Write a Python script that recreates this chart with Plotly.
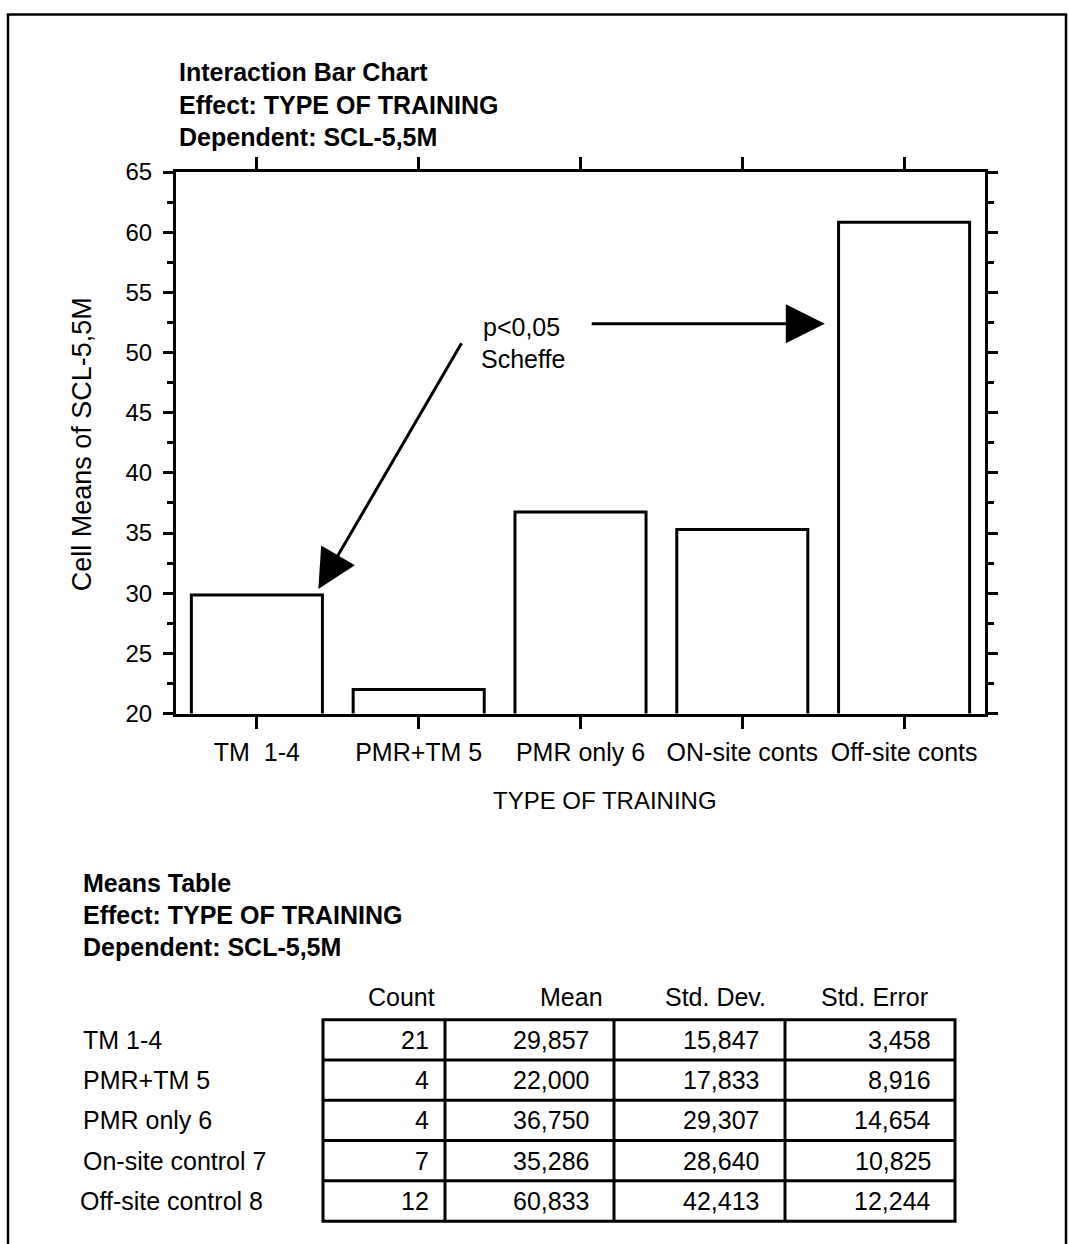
import plotly.graph_objects as go

# ---------------- data ----------------
categories = ["TM  1-4", "PMR+TM 5", "PMR only 6", "ON-site conts", "Off-site conts"]
means = [29.857, 22.000, 36.750, 35.286, 60.833]
row_labels = ["TM 1-4", "PMR+TM 5", "PMR only 6", "On-site control 7", "Off-site control 8"]
counts = [21, 4, 4, 7, 12]
std_dev = [15.847, 17.833, 29.307, 28.640, 42.413]
std_err = [3.458, 8.916, 14.654, 10.825, 12.244]
table_headers = ["Count", "Mean", "Std. Dev.", "Std. Error"]
y_ticks = [20, 25, 30, 35, 40, 45, 50, 55, 60, 65]

W, H = 1069, 1244
FONT = "Liberation Sans, Arial, Helvetica, sans-serif"


def px(x):
    return x / W


def py(y):
    # pixel row (top-down) -> paper fraction, with empirical vertical correction
    return 1 - ((y - 11.5) / 0.981) / H


def fmt(v):
    return f"{v:.3f}".replace(".", ",")


fig = go.Figure()
fig.add_trace(go.Bar(
    x=list(range(len(categories))), y=means, width=0.81,
    marker=dict(color="white", line=dict(color="black", width=3)),
    showlegend=False,
))

axis_common = dict(showline=True, linecolor="black", linewidth=3, mirror="ticks",
                   ticks="outside", tickcolor="black", tickwidth=3,
                   showgrid=False, zeroline=False)

fig.update_layout(
    width=W, height=H, margin=dict(l=0, r=0, t=0, b=0),
    paper_bgcolor="white", plot_bgcolor="white",
    font=dict(family=FONT, color="black"),
    xaxis=dict(domain=[px(176), px(985)], range=[-0.5, 4.5],
               tickmode="array", tickvals=list(range(len(categories))), ticktext=categories,
               ticklen=12, ticklabelstandoff=2,
               tickfont=dict(family=FONT, size=25, color="black"), **axis_common),
    yaxis=dict(domain=[py(713), py(170)], range=[20, 65],
               tickmode="array", tickvals=y_ticks, ticklen=10, ticklabelstandoff=6,
               tickfont=dict(family=FONT, size=24, color="black"),
               minor=dict(dtick=2.5, tick0=0, ticklen=6, tickwidth=3, tickcolor="black", ticks="outside"),
               **axis_common),
)

ann = []
# chart title block
for i, t in enumerate(["Interaction Bar Chart", "Effect: TYPE OF TRAINING", "Dependent: SCL-5,5M"]):
    ann.append(dict(x=px(177), y=py(70 + 32.5 * i), xref="paper", yref="paper", text=f"<b>{t}</b>",
                    showarrow=False, xanchor="left", yanchor="middle",
                    font=dict(family=FONT, size=25, color="black")))
# axis titles
ann.append(dict(x=px(82), y=py(443), xref="paper", yref="paper", text="Cell Means of SCL-5,5M",
                textangle=-90, showarrow=False, xanchor="center", yanchor="middle",
                font=dict(family=FONT, size=27, color="black")))
ann.append(dict(x=px(605), y=py(800), xref="paper", yref="paper", text="TYPE OF TRAINING",
                showarrow=False, xanchor="center", yanchor="middle",
                font=dict(family=FONT, size=24, color="black")))
# p-value annotation
ann.append(dict(x=px(481), y=py(325), xref="paper", yref="paper", text="p<0,05",
                showarrow=False, xanchor="left", yanchor="middle",
                font=dict(family=FONT, size=25, color="black")))
ann.append(dict(x=px(479), y=py(357), xref="paper", yref="paper", text="Scheffe",
                showarrow=False, xanchor="left", yanchor="middle",
                font=dict(family=FONT, size=25, color="black")))
ann.append(dict(x=0.38, y=30.35, xref="x", yref="y", ax=1.27, ay=50.9, axref="x", ayref="y",
                text="", showarrow=True, arrowhead=2, arrowsize=2.6, arrowwidth=3, arrowcolor="black"))
ann.append(dict(x=3.51, y=52.4, xref="x", yref="y", ax=2.06, ay=52.4, axref="x", ayref="y",
                text="", showarrow=True, arrowhead=2, arrowsize=2.6, arrowwidth=3, arrowcolor="black"))

# means table block
for i, t in enumerate(["Means Table", "Effect: TYPE OF TRAINING", "Dependent: SCL-5,5M"]):
    ann.append(dict(x=px(81), y=py(883 + 32 * i), xref="paper", yref="paper", text=f"<b>{t}</b>",
                    showarrow=False, xanchor="left", yanchor="middle",
                    font=dict(family=FONT, size=25, color="black")))

col_edges = [323, 445, 614, 785, 955]
cell_right = [431, 591, 761, 933]
row_top, row_h = 1020, 40.4
header_right = [437, 605, 768, 930]
for j, h in enumerate(table_headers):
    ann.append(dict(x=px(header_right[j]), y=py(997), xref="paper", yref="paper", text=h,
                    showarrow=False, xanchor="right", yanchor="middle",
                    font=dict(family=FONT, size=25, color="black")))
columns = [[str(c) for c in counts], [fmt(v) for v in means], [fmt(v) for v in std_dev], [fmt(v) for v in std_err]]
for i, lab in enumerate(row_labels):
    yc = row_top + row_h * (i + 0.5)
    ann.append(dict(x=px(81 if i < 4 else 78), y=py(yc), xref="paper", yref="paper", text=lab,
                    showarrow=False, xanchor="left", yanchor="middle",
                    font=dict(family=FONT, size=25, color="black")))
    for j in range(4):
        ann.append(dict(x=px(cell_right[j]), y=py(yc), xref="paper", yref="paper", text=columns[j][i],
                        showarrow=False, xanchor="right", yanchor="middle",
                        font=dict(family=FONT, size=25, color="black")))

shapes = []
# outer frame
shapes.append(dict(type="rect", xref="paper", yref="paper", x0=px(8), x1=px(1066), y0=-0.05, y1=py(12),
                   line=dict(color="black", width=2.5), fillcolor="rgba(0,0,0,0)", layer="below"))
# table frame and grid
n = len(row_labels)
shapes.append(dict(type="rect", xref="paper", yref="paper", x0=px(col_edges[0]), x1=px(col_edges[-1]),
                   y0=py(row_top + row_h * n), y1=py(row_top), line=dict(color="black", width=3)))
for e in col_edges[1:-1]:
    shapes.append(dict(type="line", xref="paper", yref="paper", x0=px(e), x1=px(e),
                       y0=py(row_top + row_h * n), y1=py(row_top), line=dict(color="black", width=3)))
for i in range(1, n):
    yy = row_top + row_h * i
    shapes.append(dict(type="line", xref="paper", yref="paper", x0=px(col_edges[0]), x1=px(col_edges[-1]),
                       y0=py(yy), y1=py(yy), line=dict(color="black", width=3)))

fig.update_layout(annotations=ann, shapes=shapes)
fig.write_html("out.html")
